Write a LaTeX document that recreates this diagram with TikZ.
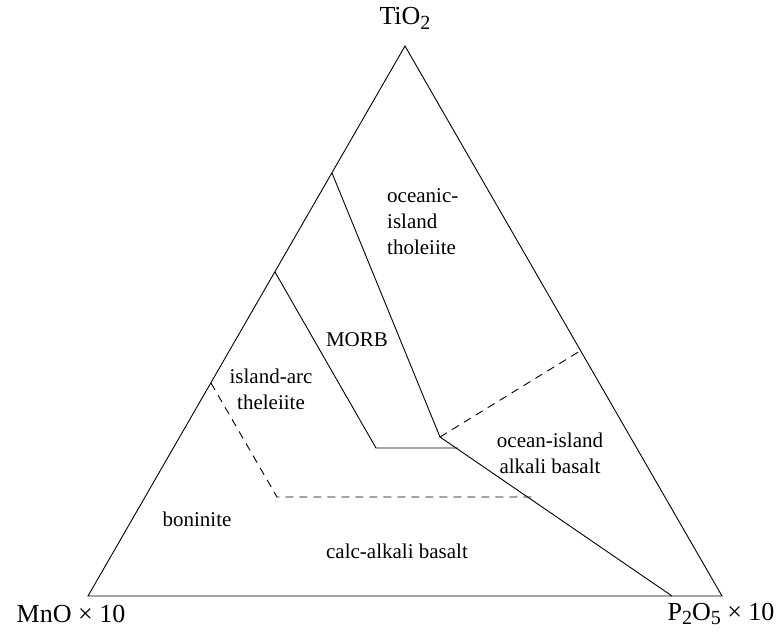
\documentclass[tikz,border=0pt]{standalone}
\usepackage{fontspec}
\setmainfont{Liberation Serif}
% chemical subscript set in the text font
\newcommand{\chemsub}[1]{\raisebox{-0.4ex}{\fontsize{20}{20}\selectfont #1}}
\begin{document}
\begin{tikzpicture}[x=1pt,y=-1pt,
  edge/.style={line width=0.9pt},
  boundary/.style={line width=0.9pt},
  softbound/.style={line width=0.9pt,dash pattern=on 8pt off 6pt},
  field/.style={font=\fontsize{21}{26}\selectfont,inner sep=0pt},
  apex/.style={font=\fontsize{26}{30}\selectfont,inner sep=0pt}]
\useasboundingbox (0,0) rectangle (782,633);
% vertices of the ternary triangle
\coordinate (T) at (405,46);
\coordinate (M) at (88,596);
\coordinate (P) at (722,596);
% junctions of the field boundaries
\coordinate (a1) at (332,173);
\coordinate (a2) at (440,437);
\coordinate (b1) at (275,272);
\coordinate (b2) at (376,448);
\coordinate (b3) at (458,448);
\coordinate (c1) at (672,596);
\coordinate (d1) at (580,351);
\coordinate (e1) at (211,383);
\coordinate (e2) at (277,497);
\coordinate (e3) at (532,497);

\draw[edge] (T) -- (M) -- (P) -- cycle;
\draw[boundary] (a1) -- (a2) -- (c1);
\draw[boundary] (b1) -- (b2) -- (b3);
\draw[softbound] (a2) -- (d1);
\draw[softbound] (e1) -- (e2) -- (e3);

% field names
\node[field,anchor=west,align=left] (oit) at (387,222) {oceanic-\\island\\tholeiite};
\node[field] (morb) at (357,340) {MORB};
\node[field,align=center] (iat) at (271,389) {island-arc\\theleiite};
\node[field,align=center] (oiab) at (550,453) {ocean-island\\alkali basalt};
\node[field] (bon) at (197,519) {boninite};
\node[field] (cab) at (397,551) {calc-alkali basalt};

% apex labels
\node[apex] (lT) at (405,18) {TiO\chemsub{2}};
\node[apex] (lM) at (71,614) {MnO × 10};
\node[apex] (lP) at (721,614) {P\chemsub{2}O\chemsub{5} × 10};
\end{tikzpicture}
\end{document}
